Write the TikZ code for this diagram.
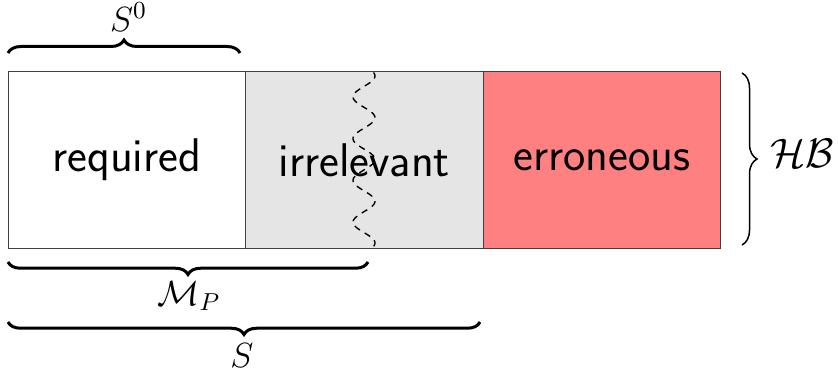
\RequirePackage{fix-cm}
\documentclass[tikz,border=0pt]{standalone}
\usepackage{fontspec}
\newfontfamily\partfont{lmsans17-regular}[Extension=.otf]
\usetikzlibrary{decorations.pathreplacing}
\begin{document}
\begin{tikzpicture}[x=0.4pt,y=-0.4pt,
  part/.style={draw=black!75, line width=0.4pt, minimum width=95pt,
    minimum height=70.4pt, inner sep=0pt, outer sep=0pt, anchor=north west,
    font=\partfont\fontsize{18.9}{22}\selectfont},
  setlabel/.style={inner sep=0pt, font=\fontsize{14}{16}\selectfont},
  bigbrace/.style={decorate, decoration={brace, amplitude=5.2pt}, line width=1.2pt},
  bigbracedown/.style={decorate, decoration={brace, mirror, amplitude=5pt}, line width=1.2pt},
  sidebrace/.style={decorate, decoration={brace, amplitude=6pt}, line width=0.6pt}]
\useasboundingbox (0,0) rectangle (838,371);

% the three parts of the Herbrand base
\node[part, fill=white] (req) at (8,72) {required};
\node[part, fill=black!10] (irr) at (req.north east) {irrelevant};
\node[part, fill=red!50] (err) at (irr.north east) {erroneous};

% wavy border of the model inside the irrelevant part (period 41.75 units)
\draw[dash pattern=on 2.6pt off 2.2pt, line width=0.55pt]
  plot[domain=72.5:247.5, samples=140, variable=\t]
  ({364+11*cos(8.6228*(\t-76))}, \t);

% brace ends
\coordinate (s0a) at (8,53);
\coordinate (s0b) at (240,53);
\coordinate (mpa) at (8,262);
\coordinate (mpb) at (368,262);
\coordinate (sa) at (8,322);
\coordinate (sb) at (480,322);
\coordinate (hba) at (742,73);
\coordinate (hbb) at (742,245);

% labels
\node[setlabel] (s0) at (128.5,17) {$S^0$};
\node[setlabel] (mp) at (189,296) {$\mathcal{M}_P$};
\node[setlabel] (s) at (242,356) {$S$};
\node[setlabel, font=\fontsize{16.5}{18}\selectfont] (hb) at (802,153) {$\mathcal{HB}$};

% braces
\draw[bigbrace] (s0a) -- (s0b);
\draw[bigbracedown] (mpa) -- (mpb);
\draw[bigbracedown] (sa) -- (sb);
\draw[sidebrace] (hba) -- (hbb);
\end{tikzpicture}
\end{document}
